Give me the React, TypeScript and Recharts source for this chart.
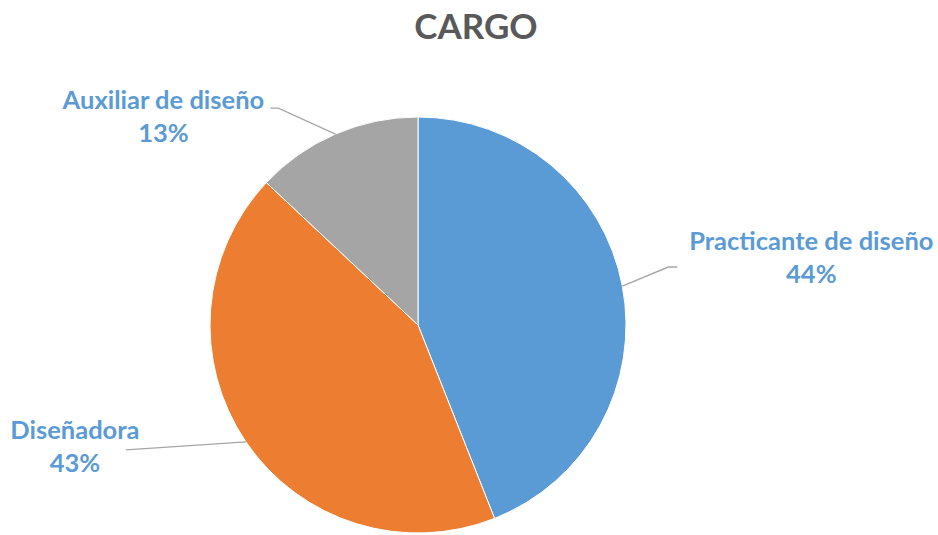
import { Cell, Pie, PieChart } from "recharts";

const categories = ["Practicante de diseño", "Diseñadora", "Auxiliar de diseño"];
const shares = [44, 43, 13];
const colors = ["#5B9BD5", "#ED7D31", "#A5A5A5"];

const data = categories.map((name, i) => ({ name, value: shares[i] }));

// label placement: elbow offset from the slice edge, then short horizontal run
const labelLayout = [
  { dx: 46, dy: -19, run: 9, textDx: 134, textDy: -17 },
  { dx: -120, dy: 8, run: 0, textDx: -51, textDy: -11 },
  { dx: -57, dy: -26, run: -8, textDx: -107, textDy: 1 },
];

const RAD = Math.PI / 180;

function renderLabel(props: any) {
  const { cx, cy, outerRadius, midAngle, index, percent } = props;
  const l = labelLayout[index];
  const sx = cx + outerRadius * Math.cos(-midAngle * RAD);
  const sy = cy + outerRadius * Math.sin(-midAngle * RAD);
  const ex = sx + l.dx;
  const ey = sy + l.dy;
  const hx = ex + l.run;
  const tx = hx + l.textDx;
  const ty = ey + l.textDy;
  return (
    <g key={`lbl-${index}`}>
      <polyline points={`${sx},${sy} ${ex},${ey} ${hx},${ey}`} fill="none" stroke="#A6A6A6" strokeWidth={1.3} />
      <text x={tx} y={ty} textAnchor="middle" fill="#5B9BD5" fontFamily="Lato, 'Open Sans', sans-serif" fontWeight={700} fontSize={25.5}>
        <tspan x={tx} dy={0}>{categories[index]}</tspan>
        <tspan x={tx} dy={33}>{`${Math.round(percent * 100)}%`}</tspan>
      </text>
    </g>
  );
}

export default function App() {
  return (
    <div style={{ position: "absolute", left: 0, top: 0, width: 938, height: 535, background: "#fff" }}>
      <div
        style={{
          position: "absolute",
          top: 4,
          left: 0,
          width: 952,
          textAlign: "center",
          fontFamily: "Lato, 'Open Sans', sans-serif",
          fontWeight: 700,
          fontSize: 35,
          color: "#595959",
        }}
      >
        CARGO
      </div>
      <PieChart width={938} height={535}>
        <Pie
          data={data}
          dataKey="value"
          nameKey="name"
          cx={413}
          cy={320}
          outerRadius={208}
          startAngle={90}
          endAngle={-270}
          stroke="#fff"
          strokeWidth={1}
          label={renderLabel}
          labelLine={false}
          isAnimationActive={false}
        >
          {data.map((d, i) => (
            <Cell key={d.name} fill={colors[i]} />
          ))}
        </Pie>
      </PieChart>
    </div>
  );
}
